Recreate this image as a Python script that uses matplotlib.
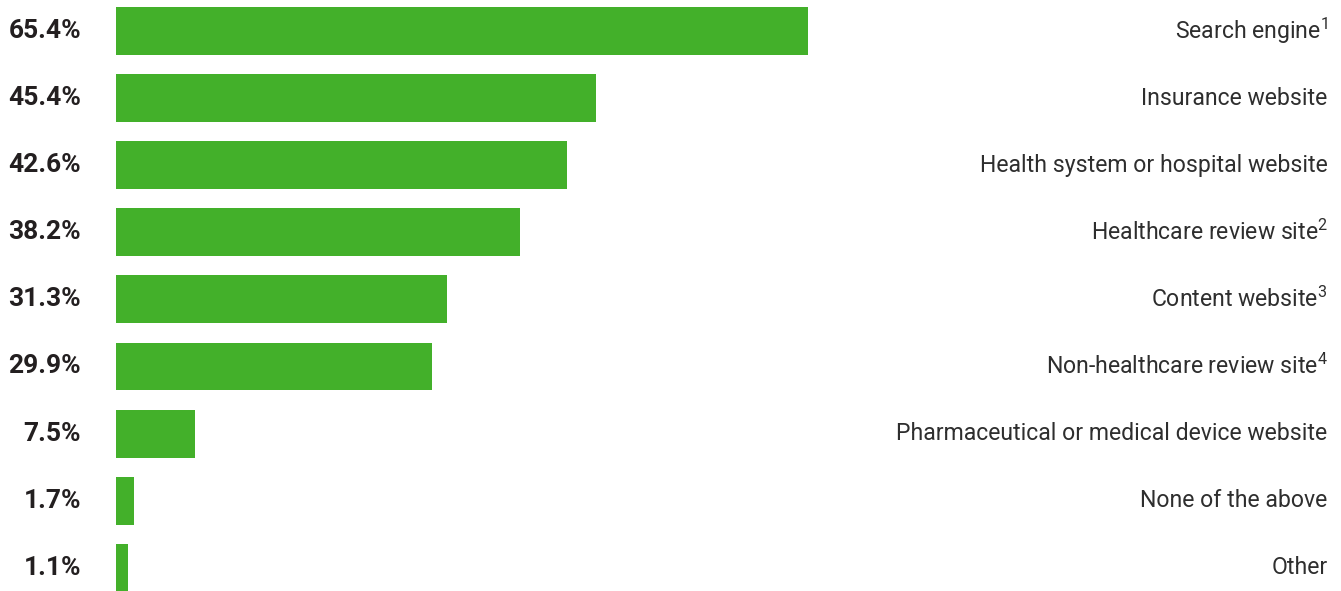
import matplotlib.pyplot as plt

plt.rcParams["mathtext.fontset"] = "custom"
plt.rcParams["mathtext.rm"] = "Roboto"
plt.rcParams["mathtext.default"] = "rm"

categories = [
    "Search engine$^{1}$",
    "Insurance website",
    "Health system or hospital website",
    "Healthcare review site$^{2}$",
    "Content website$^{3}$",
    "Non-healthcare review site$^{4}$",
    "Pharmaceutical or medical device website",
    "None of the above",
    "Other",
]
values = [65.4, 45.4, 42.6, 38.2, 31.3, 29.9, 7.5, 1.7, 1.1]

bar_color = "#43b02a"
value_color = "#231f20"
label_color = "#2e2e2e"

fig = plt.figure(figsize=(13.41, 5.91), dpi=100)
ax = fig.add_axes([116 / 1341, 0, 1 - 116 / 1341, 1])

ypos = list(range(len(values)))
ax.barh(ypos, values, height=0.715, color=bar_color)
ax.set_xlim(0, 115.8)
ax.set_ylim(8.346, -0.462)
ax.axis("off")

for y, v, cat in zip(ypos, values, categories):
    ax.annotate(f"{v}%", xy=(0, y), xytext=(-35, 0), textcoords="offset pixels",
                ha="right", va="center", fontsize=19, fontweight="bold",
                color=value_color, family=["Roboto", "DejaVu Sans"],
                annotation_clip=False)
    ax.text(0.989, y, cat, transform=ax.get_yaxis_transform(),
            ha="right", va="center", fontsize=16.6, color=label_color,
            family=["Roboto", "DejaVu Sans"])

fig.savefig("out.png", dpi=100)
